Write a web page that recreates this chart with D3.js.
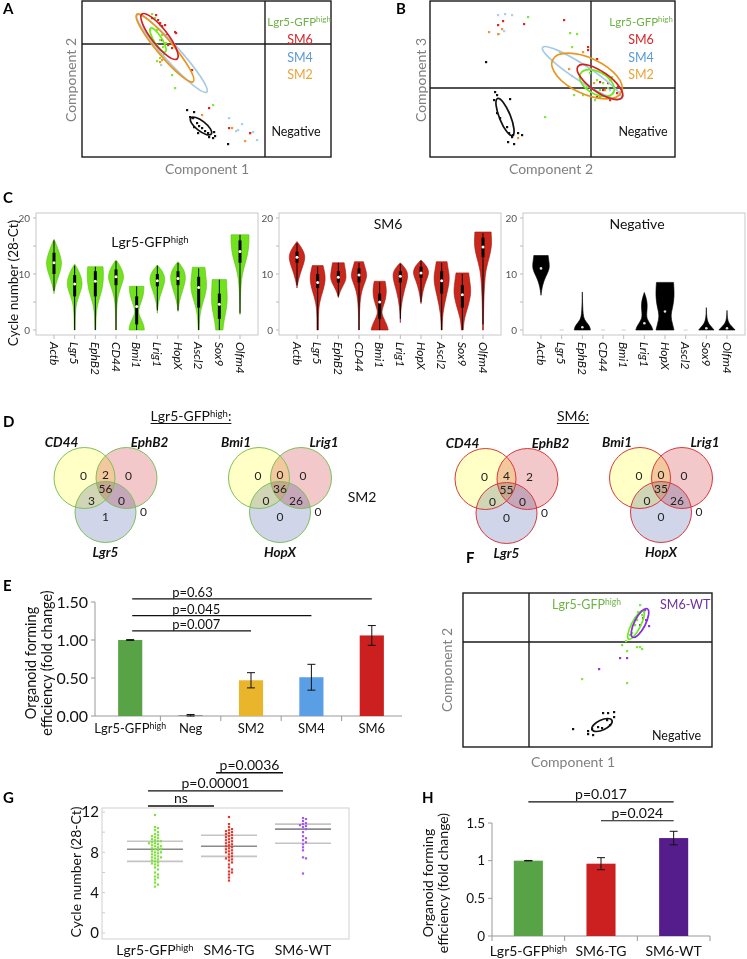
<!DOCTYPE html>
<html><head><meta charset="utf-8">
<script src="https://cdn.jsdelivr.net/npm/d3@7/dist/d3.min.js"></script>
<style>
html,body{margin:0;padding:0;background:#fff;}
svg{display:block;}
text{font-family:Lato,"Open Sans","Noto Sans",sans-serif;}
</style></head><body>
<svg id="fig" width="747" height="959" xmlns="http://www.w3.org/2000/svg"></svg>
<script>
// ================= DATA =================
// ---- Panel A (PCA, component units) ----
const aGreen = [[-11.3,3.0],[-11.0,2.6],[-10.5,1.9],[-10.8,1.4],[-10.3,0.9],[-10.8,-0.1],[-10.7,-0.6],[-10.2,-1.1],[-10.8,-1.7],[-10.5,-1.4],[-9.3,-3.1],[-9.0,-4.4],[-10.5,0.4],[-11.5,1.4],[-10.2,-0.3],[-9.9,0.1],[-5.2,-6.1]];
const aRed = [[-11.3,2.6],[-10.7,2.4],[-10.5,2.1],[-10.3,1.8],[-10.0,1.9],[-9.0,1.2],[-10.3,0.4],[-9.7,-0.1],[-9.3,-0.4],[-8.9,1.1],[-7.3,-2.6],[-5.6,-6.4],[-3.6,-8.4],[-1.5,-8.9],[-10.9,2.9],[-9.9,0.9]];
const aOrange = [[-10.5,-1.8],[-10.3,-1.6],[-3.3,-8.4],[-1.5,-8.9],[-2.0,-9.7],[-6.3,-7.1]];
const aBlue = [[-10.4,-2.1],[-3.6,-7.4],[-2.3,-8.0],[-2.7,-8.6],[-1.2,-8.8],[-0.8,-9.6],[-2.9,-8.7]];
const aBlack = [[-7.8,-6.6],[-7.1,-6.8],[-7.2,-7.4],[-6.8,-7.9],[-6.6,-8.2],[-6.3,-8.4],[-6.0,-8.7],[-5.7,-8.9],[-5.1,-8.8],[-5.6,-9.3],[-5.2,-9.4],[-5.0,-9.2],[-3.7,-10.0],[-6.7,-8.9],[-7.1,-8.3],[-7.5,-7.3]];
// ellipses [cx, cy, rx, ry, angle deg]
const aEllBlue = [-9.3,-0.95,5.2,0.8,-48];
const aEllOrange = [-10.0,-0.4,4.4,0.8,-50];
const aEllGreen = [-10.7,0.4,1.4,0.4,-58];
const aEllRed = [-10.55,0.75,2.85,0.8,-52];
const aEllBlack = [-6.4,-8.2,1.3,0.5,-38];

// ---- Panel B ----
const bBlue = [[-9.3,7.3],[-8.6,7.4],[-7.9,7.3],[-8.7,5.7],[-9.2,5.4],[-1.9,1.2],[0.9,-0.7],[1.9,-0.2],[2.9,-0.4]];
const bRed = [[-9.3,6.3],[-8.8,6.7],[-6.7,6.4],[-2.7,6.8],[-0.3,4.1],[0.6,2.9],[0.9,0.6],[1.7,0.5],[2.7,0.1],[2.6,-0.5],[1.9,-1.2],[0.6,-0.9],[1.2,-0.2],[-0.3,3.8]];
const bOrange = [[-10.2,5.6],[-9.3,5.4],[-8.9,5.9],[-0.8,3.6],[-2.2,1.9],[0.3,0.5],[1.2,1.5],[1.9,0.8],[0.9,-0.9],[1.4,-0.2],[-7.3,-5.0]];
const bGreen = [[-6.3,7.1],[-2.1,5.5],[-1.4,5.4],[-3.1,3.6],[-1.9,4.1],[-1.7,-0.7],[-4.6,-2.9],[-0.1,1.5],[0.6,0.8],[1.2,0.5],[0.9,-0.2],[1.7,0.0],[2.2,-0.5],[0.4,-1.2],[-0.4,0.1],[2.1,1.1],[-0.8,-0.7]];
const bBlack = [[-10.5,2.6],[-9.6,-0.4],[-9.4,-0.7],[-9.7,-1.2],[-8.1,-1.1],[-9.4,-2.5],[-9.1,-3.0],[-8.4,-3.9],[-8.2,-4.5],[-7.8,-4.7],[-7.3,-4.5],[-6.9,-4.7],[-7.7,-5.6],[-8.3,-5.4],[-7.9,-4.9]];
const bEllBlue = [-0.9,1.5,4.7,0.8,-33];
const bEllOrange = [-0.4,1.2,3.8,1.8,-25];
const bEllGreen = [0.6,0.5,1.9,1.1,-30];
const bEllRed = [0.9,0.6,2.7,1.0,-35];
const bEllBlack = [-8.6,-2.9,2.0,0.55,-68];

// ---- Panel F ----
const fGreen = [[11.1,3.7],[10.9,3.0],[11.3,2.7],[10.8,2.2],[10.6,1.7],[10.3,0.9],[10.1,0.7],[9.7,0.1],[9.3,-0.3],[9.8,-0.9],[10.8,-0.5],[11.1,-0.5],[11.3,-0.7],[5.3,-3.7],[9.8,-4.1],[10.7,2.4],[11.5,3.0]];
const fPurple = [[11.6,3.2],[11.7,2.2],[11.1,1.7],[12.0,1.6],[9.1,-1.6],[9.8,-1.6],[7.0,-2.7],[11.4,2.4]];
const fBlack = [[4.4,-8.7],[5.9,-8.9],[5.9,-9.2],[6.4,-9.3],[7.4,-7.1],[7.9,-7.1],[8.5,-7.0],[8.5,-7.5],[7.8,-7.8],[6.9,-8.5],[7.3,-8.6],[8.1,-8.3],[6.3,-8.7]];
const fEllGreen = [10.7,1.7,1.6,0.45,63];
const fEllPurple = [11.1,1.9,1.6,0.55,63];
const fEllBlack = [7.3,-8.3,1.1,0.5,25];

// ---- Panel C (violins): profile = [value, relative half-width] ----
const cGenes = ["Actb","Lgr5","EphB2","CD44","Bmi1","Lrig1","HopX","Ascl2","Sox9","Olfm4"];
const cTicks = [0,10,20];
const cMinorTicks = [0,5,10,15,20];
const cLgr5Profiles = [
  [[6.5,0],[8,0.15],[10,0.6],[12,0.95],[14,0.55],[15.5,0.2],[16.2,0]],
  [[0,0.05],[3,0.07],[5,0.2],[7,0.7],[8.5,0.9],[10,0.6],[11,0.3],[11.8,0]],
  [[0,0.05],[3,0.08],[5,0.3],[7,0.75],[9,0.9],[10.5,0.9],[11.3,0.85]],
  [[0,0.04],[4,0.06],[6,0.2],[8,0.6],[9.5,0.95],[11,0.6],[12,0.25],[12.5,0]],
  [[0,0.85],[1,0.8],[2.5,0.3],[3.5,0.15],[5,0.5],[6.5,0.8],[7.8,0.8]],
  [[3,0],[5,0.1],[7,0.5],[9,0.95],[10.5,0.6],[11.6,0]],
  [[3.3,0],[5,0.12],[7,0.5],[9.3,0.95],[11,0.6],[12.2,0]],
  [[0,0.05],[3,0.12],[5,0.5],[7.5,0.95],[9.5,0.8],[11.2,0.7]],
  [[0,0.4],[1.5,0.5],[3,0.7],[5,0.9],[7,0.85],[9,0.8]],
  [[2.7,0],[5,0.03],[7,0.08],[9,0.15],[11,0.4],[13,0.8],[15,1.0],[17,1.0]]
];
// stats: [median, q1, q3, whiskerLow, whiskerHigh]
const cLgr5Stats = [[12,10,13.8,7,16],[8.2,6,9.8,0,11.5],[8.7,6,10.5,0,11.3],[9.5,8,10.8,0,12.3],[4.2,1,6,0,7.8],[8.8,7.8,10,3.5,11.5],[9.2,8,10.5,3.5,12],[7.6,4,9.5,0,11],[4.6,2,6.5,0,9],[14,12,16,3,17]];
const cSM6Profiles = [
  [[7.5,0],[9,0.15],[11,0.55],[13,1.0],[14.5,0.6],[15.8,0]],
  [[0,0.08],[3,0.08],[5,0.2],[7,0.6],[9,0.9],[10.5,0.75],[11.5,0.6]],
  [[5.8,0],[7,0.2],[8.5,0.75],[9.5,0.9],[11,0.75],[12,0.65]],
  [[0,0.03],[4,0.05],[7,0.25],[9,0.8],[10,0.9],[11.5,0.6],[12.2,0.5]],
  [[0,0.95],[1,0.8],[2.5,0.3],[3.5,0.2],[5,0.6],[7,0.8],[8.7,0.6]],
  [[1.3,0],[4,0.05],[7,0.4],[9.7,0.95],[11,0.6],[12,0]],
  [[4.7,0],[7,0.2],[9,0.6],[10.3,0.95],[11.5,0.6],[12.5,0]],
  [[0,0.05],[3,0.1],[6,0.5],[9,0.95],[11,0.7],[12.2,0.6]],
  [[0,0.1],[2,0.2],[4,0.6],[6.5,1.0],[8.5,0.85],[10.2,0.7]],
  [[0,0.05],[5,0.07],[9,0.2],[11,0.35],[13,0.7],[15,1.0],[17.5,0.9]]
];
const cSM6Stats = [[13,12,14,8,15.5],[8.5,7.5,10,0,11.3],[9.4,8.5,10.5,6,12],[9.8,8.5,11,0,12],[5,2,6.5,0,8.5],[9.6,8.5,10.5,2,11.8],[10.2,9.3,11.3,5,12.3],[8.8,6.5,10.5,0,12],[6.3,4,8,0,10],[14.8,13,16.5,1,17.3]];
const cNegProfiles = [
  [[6.2,0],[8,0.15],[9.5,0.5],[11,1.0],[12.5,0.85],[13.3,0.8]],
  null,
  [[0,0.9],[0.8,0.8],[1.8,0.2],[3,0.05],[6.8,0]],
  null,
  null,
  [[0,0.95],[0.8,0.8],[2,0.2],[3.5,0.3],[5,0.35],[6.7,0]],
  [[0,1.0],[1,0.85],[2.5,0.6],[4,0.85],[6,1.05],[8.5,0.95]],
  null,
  [[0,0.85],[0.7,0.5],[1.5,0.05],[4,0]],
  [[0,0.9],[0.7,0.5],[1.5,0.05],[3.5,0]]
];
const cNegMedians = [11,null,0.5,null,null,1.2,3.3,null,0.3,0.3];

// ---- Panel D (Venn counts): [A only, A∩B, B only, A∩B∩C, A∩C, B∩C, C only, none] ----
const dLgr5Set1 = ["CD44","EphB2","Lgr5"];
const dLgr5Counts1 = [0,2,0,56,3,0,1,0];
const dLgr5Set2 = ["Bmi1","Lrig1","HopX"];
const dLgr5Counts2 = [0,0,0,36,0,26,0,0];
const dSM6Set1 = ["CD44","EphB2","Lgr5"];
const dSM6Counts1 = [0,4,2,55,0,0,0,0];
const dSM6Set2 = ["Bmi1","Lrig1","HopX"];
const dSM6Counts2 = [0,0,0,35,0,26,0,0];

// ---- Panel E ----
const eCats = ["Lgr5-GFP","Neg","SM2","SM4","SM6"];
const eVals = [1.00,0.01,0.47,0.51,1.06];
const eErr = [0.005,0.01,0.10,0.17,0.13];
const eTicks = [0,0.5,1.0,1.5];
const eSig = [{to:"SM2",y:1.12,p:"p=0.007"},{to:"SM4",y:1.32,p:"p=0.045"},{to:"SM6",y:1.54,p:"p=0.63"}];

// ---- Panel G ----
const gCats = ["Lgr5-GFP","SM6-TG","SM6-WT"];
const gLgr5 = [11.7,10.5,10.4,10.2,10.0,9.8,9.7,9.6,9.5,9.4,9.3,9.2,9.1,9.1,9.0,8.9,8.9,8.8,8.7,8.6,8.6,8.5,8.4,8.3,8.3,8.2,8.1,8.0,8.0,7.9,7.8,7.7,7.6,7.5,7.5,7.4,7.3,7.2,7.1,7.0,6.9,6.8,6.7,6.5,6.3,6.0,5.8,5.6,5.5,5.3,5.0,4.8,4.6];
const gTG = [11.5,10.8,10.5,10.3,10.2,10.1,10.0,9.9,9.8,9.7,9.6,9.5,9.4,9.3,9.2,9.1,9.0,8.9,8.8,8.7,8.6,8.5,8.4,8.3,8.2,8.1,8.0,7.9,7.8,7.6,7.5,7.4,7.3,7.2,7.0,6.8,6.5,6.3,6.1,6.0,5.8,5.5,5.2];
const gWT = [11.4,11.3,11.1,10.9,10.8,10.7,10.6,10.5,10.3,10.0,9.6,9.4,9.2,9.0,8.8,8.5,8.2,7.5,7.4,5.9];
const gLines = [[7.1,8.3,9.1],[7.6,8.6,9.7],[8.9,10.3,10.8]];
const gTicks = [0,4,8,12];
const gSig = [{from:0,to:1,y:12.6,p:"ns"},{from:0,to:2,y:14.1,p:"p=0.00001"},{from:1,to:2,y:15.9,p:"p=0.0036"}];

// ---- Panel H ----
const hCats = ["Lgr5-GFP","SM6-TG","SM6-WT"];
const hVals = [1.00,0.96,1.30];
const hErr = [0.003,0.08,0.09];
const hTicks = [0,0.5,1,1.5];
const hSig = [{from:"Lgr5-GFP",to:"SM6-WT",y:1.78,p:"p=0.017"},{from:"SM6-TG",to:"SM6-WT",y:1.53,p:"p=0.024"}];

// ================= DRAWING =================
const svg = d3.select("#fig");
const LETTER_FONT = "'Liberation Sans', Arial, sans-serif";
const C_GREEN_TXT = "#6DB345", C_RED_TXT = "#D9262A", C_BLUE_TXT = "#5B9BD5", C_ORANGE_TXT = "#EBA43A";

function letter(t,x,y){
  svg.append("text").attr("x",x).attr("y",y).attr("font-family",LETTER_FONT)
    .attr("font-weight","bold").attr("font-size",15).attr("fill","#000").text(t);
}
function withHigh(sel, base, size, after){
  sel.append("tspan").text(base);
  sel.append("tspan").text("high").attr("font-size", size*0.68).attr("dy", -size*0.32);
  if(after) sel.append("tspan").text(after).attr("dy", size*0.32);
  return sel;
}
function txt(x,y,s,opts={}){
  const t = svg.append("text").attr("x",x).attr("y",y).attr("font-size",opts.size||13)
    .attr("fill",opts.color||"#222").attr("text-anchor",opts.anchor||"middle");
  if(opts.weight) t.attr("font-weight",opts.weight);
  if(opts.style) t.attr("font-style",opts.style);
  if(opts.rotate!=null) t.attr("transform",`rotate(${opts.rotate},${x},${y})`);
  if(opts.high) withHigh(t,s,opts.size||13,opts.after); else t.text(s);
  return t;
}

// ---------- PCA panels ----------
function drawPCA(cfg){
  const x = d3.scaleLinear().domain(cfg.xDomain).range([cfg.left,cfg.right]);
  const y = d3.scaleLinear().domain(cfg.yDomain).range([cfg.bottom,cfg.top]);
  const g = svg.append("g");
  g.append("rect").attr("x",cfg.left).attr("y",cfg.top).attr("width",cfg.right-cfg.left)
    .attr("height",cfg.bottom-cfg.top).attr("fill","none").attr("stroke","#1a1a1a").attr("stroke-width",1.4);
  g.append("line").attr("x1",x(0)).attr("x2",x(0)).attr("y1",cfg.top).attr("y2",cfg.bottom).attr("stroke","#1a1a1a").attr("stroke-width",1.4);
  g.append("line").attr("x1",cfg.left).attr("x2",cfg.right).attr("y1",y(0)).attr("y2",y(0)).attr("stroke","#1a1a1a").attr("stroke-width",1.4);
  cfg.points.forEach(p=>{
    g.append("g").selectAll("rect").data(p.data).join("rect")
      .attr("x",d=>x(d[0])-1).attr("y",d=>y(d[1])-1).attr("width",2.2).attr("height",2.2).attr("fill",p.color);
  });
  cfg.ellipses.forEach(e=>{
    const [cx,cy,rx,ry,ang] = e.data;
    g.append("ellipse").attr("cx",0).attr("cy",0).attr("rx",x(rx)-x(0)).attr("ry",y(0)-y(ry))
      .attr("transform",`translate(${x(cx)},${y(cy)}) rotate(${-ang})`)
      .attr("fill","none").attr("stroke",e.color).attr("stroke-width",1.7);
  });
}

// Panel A
letter("A",3,14);
drawPCA({left:82,right:331,top:1,bottom:157,xDomain:[-18.3,6.6],yDomain:[-11.3,4.3],
  points:[{data:aGreen,color:"#7FE836"},{data:aBlue,color:"#A9CFEA"},{data:aOrange,color:"#F0962A"},{data:aRed,color:"#DD2525"},{data:aBlack,color:"#111"}],
  ellipses:[{data:aEllBlue,color:"#A8CBE2"},{data:aEllOrange,color:"#E8961E"},{data:aEllGreen,color:"#6CEB1C"},{data:aEllRed,color:"#D42020"},{data:aEllBlack,color:"#111"}]});
txt(299,26,"Lgr5-GFP",{size:11.5,color:C_GREEN_TXT,high:true});
txt(300,44,"SM6",{size:12.5,color:C_RED_TXT});
txt(300,62,"SM4",{size:12.5,color:C_BLUE_TXT});
txt(300,79,"SM2",{size:12.5,color:C_ORANGE_TXT});
txt(296,136,"Negative",{size:12.5,color:"#111"});
txt(76,80,"Component 2",{size:14,color:"#808080",rotate:-90});
txt(207,174,"Component 1",{size:14,color:"#808080"});

// Panel B
letter("B",396,14);
drawPCA({left:430,right:675,top:1,bottom:157,xDomain:[-16.1,8.4],yDomain:[-6.9,8.7],
  points:[{data:bGreen,color:"#7FE836"},{data:bBlue,color:"#A9CFEA"},{data:bOrange,color:"#F0962A"},{data:bRed,color:"#DD2525"},{data:bBlack,color:"#111"}],
  ellipses:[{data:bEllBlue,color:"#A8CBE2"},{data:bEllOrange,color:"#E8961E"},{data:bEllGreen,color:"#6CEB1C"},{data:bEllRed,color:"#D42020"},{data:bEllBlack,color:"#111"}]});
txt(641,26,"Lgr5-GFP",{size:11.5,color:C_GREEN_TXT,high:true});
txt(641,44,"SM6",{size:12.5,color:C_RED_TXT});
txt(641,62,"SM4",{size:12.5,color:C_BLUE_TXT});
txt(641,79,"SM2",{size:12.5,color:C_ORANGE_TXT});
txt(643,136,"Negative",{size:12.5,color:"#111"});
txt(426,80,"Component 3",{size:14,color:"#808080",rotate:-90});
txt(551,174,"Component 2",{size:14,color:"#808080"});

// ---------- Panel C violins ----------
letter("C",3,203);
function drawViolinPanel(p){
  const g = svg.append("g");
  const x = d3.scalePoint().domain(cGenes).range([p.left+18,p.left+204]);
  const y = d3.scaleLinear().domain([0,20]).range([330,218]);
  const w = d3.scaleLinear().domain([0,1]).range([0,9]);
  g.append("rect").attr("x",p.left).attr("y",213).attr("width",222).attr("height",122)
    .attr("fill","none").attr("stroke","#c8c8c8");
  cMinorTicks.forEach(t=>g.append("line").attr("x1",p.left-3).attr("x2",p.left).attr("y1",y(t)).attr("y2",y(t)).attr("stroke","#bbb"));
  cTicks.forEach(t=>g.append("text").attr("x",p.left-6).attr("y",y(t)).attr("dy","0.35em")
    .attr("text-anchor","end").attr("font-size",10).attr("fill","#555").text(t));
  const areaV = d3.area().y(d=>y(d[0])).x0(d=>-w(d[1])).x1(d=>w(d[1])).curve(d3.curveBasis);
  cGenes.forEach((gene,i)=>{
    const cx = x(gene);
    g.append("line").attr("x1",cx).attr("x2",cx).attr("y1",335).attr("y2",339).attr("stroke","#bbb");
    const vg = g.append("g").attr("transform",`translate(${cx},0)`);
    const prof = p.profiles[i];
    if(!prof){
      vg.append("line").attr("x1",-2).attr("x2",2).attr("y1",y(0)).attr("y2",y(0)).attr("stroke","#ccc");
    } else {
      vg.append("path").attr("d",areaV(prof)).attr("fill",p.fill).attr("stroke",p.stroke).attr("stroke-width",0.6);
      if(p.stats){
        const [med,q1,q3,lo,hi] = p.stats[i];
        vg.append("line").attr("x1",0).attr("x2",0).attr("y1",y(lo)).attr("y2",y(hi)).attr("stroke","#000").attr("stroke-width",1);
        vg.append("line").attr("x1",0).attr("x2",0).attr("y1",y(q1)).attr("y2",y(q3)).attr("stroke","#000").attr("stroke-width",3);
        vg.append("circle").attr("cx",0).attr("cy",y(med)).attr("r",1.5).attr("fill","#fff");
      } else if(p.medians && p.medians[i]!=null){
        vg.append("circle").attr("cx",0).attr("cy",y(p.medians[i])).attr("r",1.3).attr("fill","#ddd");
      }
    }
    g.append("text").attr("transform",`translate(${cx},342) rotate(90)`).attr("dy","0.35em")
      .attr("font-size",12).attr("font-style","italic").attr("fill","#111").text(gene);
  });
  const t = g.append("text").attr("x",p.titleX).attr("y",p.titleY).attr("text-anchor","middle").attr("font-size",14).attr("fill","#111");
  if(p.high) withHigh(t,p.title,14); else t.text(p.title);
}
drawViolinPanel({left:36,profiles:cLgr5Profiles,stats:cLgr5Stats,fill:"#72E21F",stroke:"#5ABF14",title:"Lgr5-GFP",high:true,titleX:150,titleY:247});
drawViolinPanel({left:279,profiles:cSM6Profiles,stats:cSM6Stats,fill:"#C9261C",stroke:"#9E1A12",title:"SM6",titleX:388,titleY:229});
drawViolinPanel({left:523,profiles:cNegProfiles,medians:cNegMedians,fill:"#000",stroke:"#000",title:"Negative",titleX:637,titleY:229});
txt(18,283,"Cycle number (28-Ct)",{size:13.5,color:"#111",rotate:-90});

// ---------- Panel D Venns ----------
letter("D",3,427);
const vennCircles = [[-21,0,"#FFFFC6"],[21,0,"#F3C8CA"],[0,34,"#D0D5EA"]];
const vennLabelPos = [[-22,-2],[0,-3],[23,-2],[0,11],[-14,23],[16,23],[0,39],[38,34]];
function drawVenn(ox,oy,sets,counts,stroke){
  const g = svg.append("g").attr("transform",`translate(${ox},${oy})`);
  const r = 30.5;
  vennCircles.forEach(c=>g.append("circle").attr("cx",c[0]).attr("cy",c[1]).attr("r",r).attr("fill",c[2]).style("mix-blend-mode","multiply"));
  vennCircles.forEach(c=>g.append("circle").attr("cx",c[0]).attr("cy",c[1]).attr("r",r).attr("fill","none").attr("stroke",stroke).attr("stroke-width",1));
  counts.forEach((n,i)=>g.append("text").attr("x",vennLabelPos[i][0]).attr("y",vennLabelPos[i][1]).attr("dy","0.35em")
    .attr("text-anchor","middle").attr("font-size",12).attr("fill","#222").text(n));
  const lab = [[-44,-36],[44,-36],[0,74]];
  sets.forEach((s,i)=>g.append("text").attr("x",lab[i][0]).attr("y",lab[i][1]).attr("dy","0.35em")
    .attr("text-anchor","middle").attr("font-size",13.5).attr("font-weight","bold").attr("font-style","italic").attr("fill","#111").text(s));
}
drawVenn(105.5,478,dLgr5Set1,dLgr5Counts1,"#7CC05A");
drawVenn(280,478,dLgr5Set2,dLgr5Counts2,"#7CC05A");
drawVenn(506.5,479,dSM6Set1,dSM6Counts1,"#D9393B");
drawVenn(661,478,dSM6Set2,dSM6Counts2,"#D9393B");
function underlined(x,y,s,high){
  const t = txt(x,y,s,{size:14,color:"#111",high:high,after:":"});
  if(!high) t.text(s+":");
  const wdt = t.node().getComputedTextLength();
  svg.append("line").attr("x1",x-wdt/2).attr("x2",x+wdt/2).attr("y1",y+2.5).attr("y2",y+2.5).attr("stroke","#111").attr("stroke-width",1);
}
underlined(191,421,"Lgr5-GFP",true);
underlined(573,421,"SM6",false);
txt(362,502,"SM2",{size:14,color:"#111"});

// ---------- Panel E ----------
letter("E",3,591);
(function(){
  const x = d3.scaleBand().domain(eCats).range([100,402]).paddingInner(0.6).paddingOuter(0.3);
  const y = d3.scaleLinear().domain([0,1.5]).range([716,602]);
  const g = svg.append("g");
  const colors = ["#58A345","#7f7f7f","#E9B62B","#5A9FE6","#CC1F1F"];
  const bw = x.bandwidth(), step = x.step();
  g.append("line").attr("x1",95).attr("x2",95).attr("y1",y(1.5)).attr("y2",y(0)).attr("stroke","#999");
  g.append("line").attr("x1",95).attr("x2",402).attr("y1",y(0)).attr("y2",y(0)).attr("stroke","#999");
  eTicks.forEach(t=>{
    g.append("line").attr("x1",91).attr("x2",95).attr("y1",y(t)).attr("y2",y(t)).attr("stroke","#999");
    g.append("text").attr("x",88).attr("y",y(t)).attr("dy","0.35em").attr("text-anchor","end").attr("font-size",16).attr("fill","#111").text(d3.format(".2f")(t));
  });
  eCats.forEach((c,i)=>{
    const cx = x(c)+bw/2;
    if(i>0) g.append("line").attr("x1",cx-step/2).attr("x2",cx-step/2).attr("y1",y(0)).attr("y2",y(0)+5).attr("stroke","#999");
    g.append("rect").attr("x",x(c)).attr("y",y(eVals[i])).attr("width",bw).attr("height",y(0)-y(eVals[i])).attr("fill",colors[i]);
    const lo = y(Math.max(0,eVals[i]-eErr[i])), hi = y(eVals[i]+eErr[i]);
    g.append("line").attr("x1",cx).attr("x2",cx).attr("y1",lo).attr("y2",hi).attr("stroke","#111");
    [lo,hi].forEach(v=>g.append("line").attr("x1",cx-4).attr("x2",cx+4).attr("y1",v).attr("y2",v).attr("stroke","#111"));
    const t = g.append("text").attr("x",cx).attr("y",733).attr("text-anchor","middle").attr("font-size",13).attr("fill","#111");
    if(i===0) withHigh(t,c,13); else t.text(c);
  });
  const x0 = x(eCats[0])+bw/2+2;
  eSig.forEach(s=>{
    const x1 = x(s.to)+bw/2;
    g.append("line").attr("x1",x0).attr("x2",x1).attr("y1",y(s.y)).attr("y2",y(s.y)).attr("stroke","#111").attr("stroke-width",1.2);
    g.append("text").attr("x",x0+40).attr("y",y(s.y)-2).attr("font-size",13).attr("fill","#111").text(s.p);
  });
  txt(36,663,"Organoid forming",{size:14.5,color:"#111",rotate:-90});
  txt(52,663,"efficiency (fold change)",{size:14.5,color:"#111",rotate:-90});
})();

// ---------- Panel F ----------
letter("F",466,563);
drawPCA({left:463,right:712,top:593,bottom:747,xDomain:[-6.6,18.3],yDomain:[-10.5,4.9],
  points:[{data:fGreen,color:"#7FE836"},{data:fPurple,color:"#8A3BE0"},{data:fBlack,color:"#111"}],
  ellipses:[{data:fEllGreen,color:"#6CEB1C"},{data:fEllPurple,color:"#8A2BE2"},{data:fEllBlack,color:"#111"}]});
txt(552,609,"Lgr5-GFP",{size:12.5,color:C_GREEN_TXT,high:true,anchor:"start"});
txt(660,609,"SM6-WT",{size:12.5,color:"#7030A0",anchor:"start"});
txt(652,740,"Negative",{size:12.5,color:"#111",anchor:"start"});
txt(452,670,"Component 2",{size:14,color:"#808080",rotate:-90});
txt(573,767,"Component 1",{size:14,color:"#808080"});

// ---------- Panel G ----------
letter("G",3,803);
(function(){
  const x = d3.scalePoint().domain(gCats).range([155,303]);
  const y = d3.scaleLinear().domain([0,12]).range([933,812]);
  const g = svg.append("g");
  g.append("rect").attr("x",102).attr("y",808).attr("width",247).attr("height",131).attr("fill","none").attr("stroke","#d0d0d0");
  d3.range(0,13,2).forEach(t=>g.append("line").attr("x1",102).attr("x2",105).attr("y1",y(t)).attr("y2",y(t)).attr("stroke","#ccc"));
  gTicks.forEach(t=>g.append("text").attr("x",99).attr("y",y(t)).attr("dy","0.35em").attr("text-anchor","end").attr("font-size",15).attr("fill","#111").text(t));
  const series = [gLgr5,gTG,gWT];
  const colors = ["#7FE040","#E2392E","#A35BEF"];
  function dodge(vals){
    const pts = vals.map(v=>({v,py:y(v)})).sort((a,b)=>a.py-b.py);
    const placed = [];
    pts.forEach(p=>{
      for(let k=0;k<60;k++){
        const off = (k%2?1:-1)*Math.ceil(k/2)*3.0;
        if(placed.every(q=>Math.hypot(q.dx-off,q.py-p.py)>=3.0)){p.dx=off;break;}
      }
      placed.push(p);
    });
    return placed;
  }
  gCats.forEach((c,i)=>{
    const cx = x(c);
    const [lo,mid,hi] = gLines[i];
    [[lo,"#c4c4c4",1.6],[hi,"#c4c4c4",1.6],[mid,"#8a8a8a",1.6]].forEach(l=>
      g.append("line").attr("x1",cx-28).attr("x2",cx+28).attr("y1",y(l[0])).attr("y2",y(l[0])).attr("stroke",l[1]).attr("stroke-width",l[2]));
    g.append("g").selectAll("rect").data(dodge(series[i])).join("rect")
      .attr("x",d=>cx+d.dx-1.1).attr("y",d=>d.py-1.1).attr("width",2.2).attr("height",2.2).attr("fill",colors[i]);
    const t = g.append("text").attr("x",cx).attr("y",955).attr("text-anchor","middle").attr("font-size",14).attr("fill","#111");
    if(i===0) withHigh(t,c,14); else t.text(c);
  });
  const offs = [-7,-15,-20];
  gSig.forEach(s=>{
    const x1 = x(gCats[s.from])+offs[s.from]+(s.from===1?2:0), x2 = x(gCats[s.to])+offs[s.to];
    g.append("line").attr("x1",x1).attr("x2",x2).attr("y1",y(s.y)).attr("y2",y(s.y)).attr("stroke","#111").attr("stroke-width",1.4);
    g.append("text").attr("x",(x1+x2)/2).attr("y",y(s.y)-2.5).attr("text-anchor","middle").attr("font-size",14).attr("fill","#111").text(s.p);
  });
  txt(81,872,"Cycle number (28-Ct)",{size:14,color:"#111",rotate:-90});
})();

// ---------- Panel H ----------
letter("H",422,803);
(function(){
  const x = d3.scaleBand().domain(hCats).range([492,710]).paddingInner(0.6).paddingOuter(0.3);
  const y = d3.scaleLinear().domain([0,1.5]).range([936,823]);
  const g = svg.append("g");
  const colors = ["#58A345","#CC1F1F","#551D8C"];
  const bw = x.bandwidth(), step = x.step();
  g.append("line").attr("x1",492).attr("x2",492).attr("y1",y(1.5)).attr("y2",y(0)).attr("stroke","#999");
  g.append("line").attr("x1",492).attr("x2",710).attr("y1",y(0)).attr("y2",y(0)).attr("stroke","#999");
  hTicks.forEach(t=>{
    g.append("line").attr("x1",488).attr("x2",492).attr("y1",y(t)).attr("y2",y(t)).attr("stroke","#999");
    g.append("text").attr("x",485).attr("y",y(t)).attr("dy","0.35em").attr("text-anchor","end").attr("font-size",13.5).attr("fill","#111").text(t);
  });
  hCats.forEach((c,i)=>{
    const cx = x(c)+bw/2;
    g.append("line").attr("x1",cx-step/2).attr("x2",cx-step/2).attr("y1",y(0)).attr("y2",y(0)+5).attr("stroke","#999");
    if(i===hCats.length-1) g.append("line").attr("x1",cx+step/2).attr("x2",cx+step/2).attr("y1",y(0)).attr("y2",y(0)+5).attr("stroke","#999");
    g.append("rect").attr("x",x(c)).attr("y",y(hVals[i])).attr("width",bw).attr("height",y(0)-y(hVals[i])).attr("fill",colors[i]);
    const lo = y(hVals[i]-hErr[i]), hi = y(hVals[i]+hErr[i]);
    g.append("line").attr("x1",cx).attr("x2",cx).attr("y1",lo).attr("y2",hi).attr("stroke","#111");
    [lo,hi].forEach(v=>g.append("line").attr("x1",cx-4).attr("x2",cx+4).attr("y1",v).attr("y2",v).attr("stroke","#111"));
    const t = g.append("text").attr("x",cx).attr("y",956).attr("text-anchor","middle").attr("font-size",14).attr("fill","#111");
    if(i===0) withHigh(t,c,14); else t.text(c);
  });
  hSig.forEach(s=>{
    const x1 = x(s.from)+bw/2, x2 = x(s.to)+bw/2;
    g.append("line").attr("x1",x1).attr("x2",x2).attr("y1",y(s.y)).attr("y2",y(s.y)).attr("stroke","#111").attr("stroke-width",1.2);
    g.append("text").attr("x",(x1+x2)/2).attr("y",y(s.y)-2.5).attr("text-anchor","middle").attr("font-size",14).attr("fill","#111").text(s.p);
  });
  txt(433,883,"Organoid forming",{size:14,color:"#111",rotate:-90});
  txt(448,883,"efficiency (fold change)",{size:14,color:"#111",rotate:-90});
})();
</script>
</body></html>
